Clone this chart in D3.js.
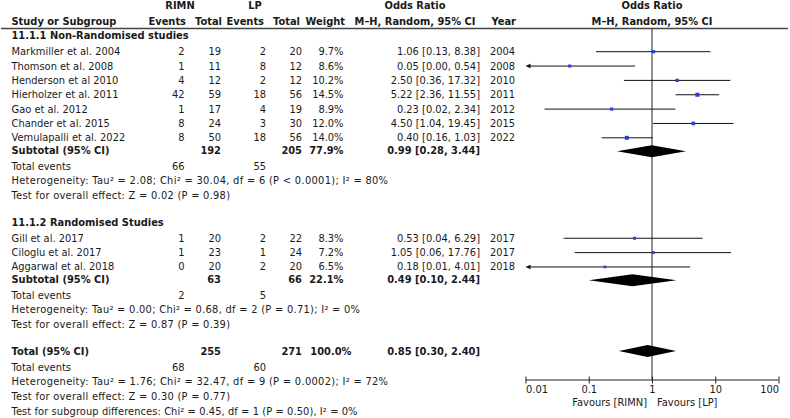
<!DOCTYPE html>
<html><head><meta charset="utf-8">
<script src="https://cdn.jsdelivr.net/npm/d3@7"></script>
<style>
body{margin:0;background:#fff;}
svg text{font-family:"DejaVu Sans",sans-serif;font-size:9.9px;fill:#1a1a1a;}
.b{font-weight:bold;}
</style></head><body>
<svg id="c" width="790" height="418"></svg>
<script>
// ---- data ----
const group1Names = ["Markmiller et al. 2004","Thomson et al. 2008","Henderson et al 2010","Hierholzer et al. 2011","Gao et al. 2012","Chander et al. 2015","Vemulapalli et al. 2022"];
const group1EventsA = [2,1,4,42,1,8,8];
const group1TotalA = [19,11,12,59,17,24,50];
const group1EventsB = [2,8,2,18,4,3,18];
const group1TotalB = [20,12,12,56,19,30,56];
const group1Weight = [9.7,8.6,10.2,14.5,8.9,12.0,14.0];
const group1OR = [1.06,0.05,2.50,5.22,0.23,4.50,0.40];
const group1Lo = [0.13,0.00,0.36,2.36,0.02,1.04,0.16];
const group1Hi = [8.38,0.54,17.32,11.55,2.34,19.45,1.03];
const group1Year = [2004,2008,2010,2011,2012,2015,2022];

const group2Names = ["Gill et al. 2017","Ciloglu et al. 2017","Aggarwal et al. 2018"];
const group2EventsA = [1,1,0];
const group2TotalA = [20,23,20];
const group2EventsB = [2,1,2];
const group2TotalB = [22,24,20];
const group2Weight = [8.3,7.2,6.5];
const group2OR = [0.53,1.05,0.18];
const group2Lo = [0.04,0.06,0.01];
const group2Hi = [6.29,17.76,4.01];
const group2Year = [2017,2017,2018];

const subtotalLabels = ["Subtotal (95% CI)","Subtotal (95% CI)","Total (95% CI)"];
const subtotalTotalA = [192,63,255];
const subtotalTotalB = [205,66,271];
const subtotalWeight = ["77.9%","22.1%","100.0%"];
const subtotalOR = [0.99,0.49,0.85];
const subtotalLo = [0.28,0.10,0.30];
const subtotalHi = [3.44,2.44,2.40];
const totalEventsA = [66,2,68];
const totalEventsB = [55,5,60];
const heterogeneity = [
 "Heterogeneity: Tau² = 2.08; Chi² = 30.04, df = 6 (P < 0.0001); I² = 80%",
 "Heterogeneity: Tau² = 0.00; Chi² = 0.68, df = 2 (P = 0.71); I² = 0%",
 "Heterogeneity: Tau² = 1.76; Chi² = 32.47, df = 9 (P = 0.0002); I² = 72%"];
const overallEffect = ["Test for overall effect: Z = 0.02 (P = 0.98)","Test for overall effect: Z = 0.87 (P = 0.39)","Test for overall effect: Z = 0.30 (P = 0.77)"];
const subgroupTest = "Test for subgroup differences: Chi² = 0.45, df = 1 (P = 0.50), I² = 0%";
const groupTitles = ["11.1.1 Non-Randomised studies","11.1.2 Randomised Studies"];
const axisTicks = [0.01,0.1,1,10,100];
const axisTickLabels = ["0.01","0.1","1","10","100"];
const favourLabels = ["Favours [RIMN]","Favours [LP]"];

// ---- layout ----
const svg = d3.select("#c");
const x = d3.scaleLog().domain([0.01,100]).range([525.5,778.5]);
const row = d3.scaleLinear().domain([0,25]).range([51.7,51.7+25*14.35]);
const col = {name:11.5, eA:184.5, tA:221, eB:266, tB:302, w:343.5, or:480, yr:490};
const f2 = v=>v.toFixed(2);
const ciText=(o,l,h)=>`${f2(o)} [${f2(l)}, ${f2(h)}]`;

function txt(xp,yp,s,anchor,bold,len){
  const t = svg.append("text").attr("x",xp).attr("y",yp).attr("dy","0.35em")
    .attr("text-anchor",anchor||"start").attr("class",bold?"b":null).text(s);
  if(len) t.attr("textLength",len).attr("lengthAdjust","spacing");
  return t;
}

// headers
txt(180,6,"RIMN","middle",true);
txt(255,6,"LP","middle",true);
txt(415,6,"Odds Ratio","middle",true);
txt(x(1),6,"Odds Ratio","middle",true);
txt(col.name,21.7,"Study or Subgroup","start",true);
txt(186,21.7,"Events","end",true);
txt(222,21.7,"Total","end",true);
txt(264,21.7,"Events","end",true);
txt(300,21.7,"Total","end",true);
txt(345,21.7,"Weight","end",true);
txt(415,21.7,"M–H, Random, 95% CI","middle",true);
txt(516,21.7,"Year","end",true);
txt(x(1),21.7,"M–H, Random, 95% CI","middle",true);
svg.append("line").attr("x1",1).attr("x2",788).attr("y1",28.5).attr("y2",28.5)
  .attr("stroke","#444").attr("stroke-width",1.4);

// vertical line of no effect
svg.append("line").attr("x1",x(1)).attr("x2",x(1)).attr("y1",28.5).attr("y2",380)
  .attr("stroke","#222").attr("stroke-width",1);

const groups = [
 {names:group1Names,eA:group1EventsA,tA:group1TotalA,eB:group1EventsB,tB:group1TotalB,w:group1Weight,or:group1OR,lo:group1Lo,hi:group1Hi,yr:group1Year,start:0},
 {names:group2Names,eA:group2EventsA,tA:group2TotalA,eB:group2EventsB,tB:group2TotalB,w:group2Weight,or:group2OR,lo:group2Lo,hi:group2Hi,yr:group2Year,start:13}
];
const hetLen = [376.5, 348.5, 376.5];
const testLen = 218.5;

const [dmin,dmax]=x.domain();
function studyMark(yp,o,l,h,w){
  const xl = l<=dmin ? x(dmin) : x(l);
  const xh = h>=dmax ? x(dmax) : x(h);
  const arrowL = l<=dmin;
  svg.append("line").attr("x1",arrowL?xl+4:xl).attr("x2",xh).attr("y1",yp).attr("y2",yp)
    .attr("stroke","#111").attr("stroke-width",1);
  if(arrowL){
    svg.append("path").attr("d",`M${xl},${yp} L${xl+5},${yp-2.2} L${xl+5},${yp+2.2} Z`).attr("fill","#111");
  }
  const s = 1.6 + w*0.17;
  svg.append("rect").attr("x",x(o)-s/2).attr("y",yp-s/2).attr("width",s).attr("height",s).attr("fill","#2a3fe0");
}
function diamond(yp,o,l,h){
  svg.append("path").attr("d",`M${x(l)},${yp} L${x(o)},${yp-6} L${x(h)},${yp} L${x(o)},${yp+6} Z`).attr("fill","#000");
}

groups.forEach((g,gi)=>{
  const s=g.start;
  txt(col.name,row(s-1)-1.5,groupTitles[gi],"start",true);
  g.names.forEach((n,i)=>{
    const yp=row(s+i);
    txt(col.name,yp,n);
    txt(col.eA,yp,g.eA[i],"end");
    txt(col.tA,yp,g.tA[i],"end");
    txt(col.eB,yp,g.eB[i],"end");
    txt(col.tB,yp,g.tB[i],"end");
    txt(col.w,yp,g.w[i].toFixed(1)+"%","end");
    txt(col.or,yp,ciText(g.or[i],g.lo[i],g.hi[i]),"end");
    txt(col.yr,yp,g.yr[i],"start");
    studyMark(yp,g.or[i],g.lo[i],g.hi[i],g.w[i]);
  });
  const n=g.names.length;
  const ys=row(s+n)-1.5;
  txt(col.name,ys,subtotalLabels[gi],"start",true);
  txt(col.tA,ys,subtotalTotalA[gi],"end",true);
  txt(col.tB,ys,subtotalTotalB[gi],"end",true);
  txt(col.w,ys,subtotalWeight[gi],"end",true);
  txt(col.or,ys,ciText(subtotalOR[gi],subtotalLo[gi],subtotalHi[gi]),"end",true);
  diamond(ys+0.5,subtotalOR[gi],subtotalLo[gi],subtotalHi[gi]);
  txt(col.name,row(s+n+1),"Total events");
  txt(col.eA,row(s+n+1),totalEventsA[gi],"end");
  txt(col.eB,row(s+n+1),totalEventsB[gi],"end");
  txt(col.name,row(s+n+2),heterogeneity[gi],"start",false,hetLen[gi]);
  txt(col.name,row(s+n+3),overallEffect[gi],"start",false,testLen);
});

// overall total
const yt=row(21)-2;
txt(col.name,yt,subtotalLabels[2],"start",true);
txt(col.tA,yt,subtotalTotalA[2],"end",true);
txt(col.tB,yt,subtotalTotalB[2],"end",true);
txt(351.5,yt,subtotalWeight[2],"end",true);
txt(col.or,yt,ciText(subtotalOR[2],subtotalLo[2],subtotalHi[2]),"end",true);
diamond(yt,subtotalOR[2],subtotalLo[2],subtotalHi[2]);
txt(col.name,row(22),"Total events");
txt(col.eA,row(22),totalEventsA[2],"end");
txt(col.eB,row(22),totalEventsB[2],"end");
txt(col.name,row(23),heterogeneity[2],"start",false,hetLen[2]);
txt(col.name,row(24),overallEffect[2],"start",false,testLen);
txt(col.name,row(25)+1,subgroupTest,"start",false,346);

// axis
const ax = svg.append("g").attr("transform","translate(0,380)")
  .call(d3.axisBottom(x).tickValues(axisTicks).tickFormat((d,i)=>axisTickLabels[i]).tickSize(3.5).tickPadding(2.5));
ax.select(".domain").attr("stroke","#222").attr("d",`M${x.range()[0]},0H${x.range()[1]}`);
ax.selectAll(".tick line").attr("y1",-3.5).attr("y2",3.5).attr("stroke","#222");
ax.selectAll(".tick text").attr("font-family","DejaVu Sans").attr("font-size","9.9px").attr("fill","#1a1a1a")
  .attr("text-anchor",(d,i)=> i===0?"start":(i===axisTicks.length-1?"end":"middle"));
txt(x(1)-5,403,favourLabels[0],"end");
txt(x(1)+5,403,favourLabels[1],"start");
</script></body></html>
